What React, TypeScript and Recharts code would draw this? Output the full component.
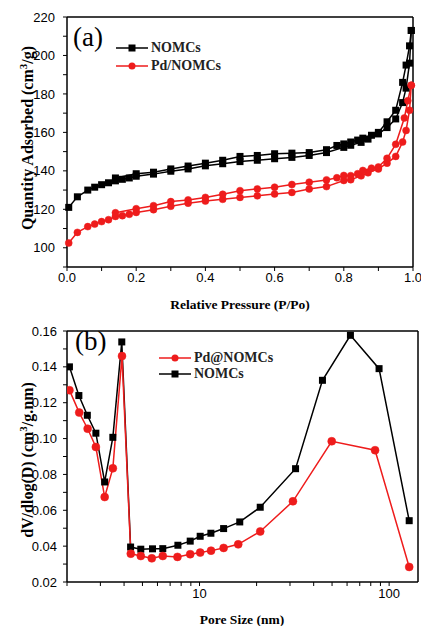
import React from "react";
import { LineChart, Line, XAxis, YAxis, ReferenceLine } from "recharts";

// ─── (a) N2 isotherms ────────────────────────────────────────────────────────

const P_ADS = [0.005, 0.03, 0.06, 0.08, 0.1, 0.12, 0.14, 0.16, 0.18, 0.2, 0.25, 0.3, 0.35, 0.4, 0.45, 0.5, 0.55, 0.6, 0.65, 0.7, 0.75, 0.8, 0.82, 0.85, 0.87, 0.9, 0.925, 0.95, 0.97, 0.98, 0.99, 0.995];
const NOMC_ADS = [121, 126.5, 130, 131.5, 132.8, 133.8, 134.8, 135.6, 136.3, 137.2, 138.3, 139.8, 141, 142.6, 143.7, 144.8, 145.5, 146.3, 147, 148, 149.5, 152.2, 153.3, 154.8, 156.5, 159.2, 162.5, 167, 175.5, 183, 196, 213];
const PD_ADS = [102.5, 108, 111, 112.3, 113.6, 114.6, 116.3, 116.7, 117.4, 118.4, 119.8, 121.6, 123.2, 124.3, 125.2, 126.2, 127, 128, 128.8, 130.6, 131.8, 135, 135.4, 137.4, 139, 141, 144, 147.5, 155, 161, 171.5, 184.5];

const P_DES_N = [0.995, 0.99, 0.98, 0.97, 0.95, 0.925, 0.9, 0.88, 0.855, 0.84, 0.82, 0.8, 0.78, 0.75, 0.7, 0.65, 0.6, 0.55, 0.5, 0.45, 0.4, 0.35, 0.3, 0.25, 0.2, 0.14];
const NOMC_DES = [213, 205, 195, 186, 171.5, 165.5, 160, 158.5, 157, 156, 155, 154, 153.2, 151, 149.5, 149.2, 148.9, 148, 147.5, 145.5, 144, 142.5, 141, 139.3, 138.5, 136.3];

const P_DES_P = [0.995, 0.985, 0.975, 0.95, 0.925, 0.9, 0.88, 0.855, 0.84, 0.82, 0.8, 0.78, 0.75, 0.7, 0.65, 0.6, 0.55, 0.5, 0.45, 0.4, 0.35, 0.3, 0.25, 0.2, 0.14];
const PD_DES = [184.5, 176.5, 167.5, 153.8, 146.5, 142, 141.4, 140.2, 138.5, 137.5, 137.6, 136.4, 135.3, 134.1, 132.9, 131.5, 130.6, 129.7, 127.8, 126.2, 124.9, 124, 121.9, 120.3, 118.2];

const A_XTICKS = [0, 0.1, 0.2, 0.3, 0.4, 0.5, 0.6, 0.7, 0.8, 0.9, 1.0];
const A_YTICKS = [90, 100, 110, 120, 130, 140, 150, 160, 170, 180, 190, 200, 210, 220];

// ─── (b) pore size distribution ─────────────────────────────────────────────

const PORE_N = [2.06, 2.31, 2.56, 2.84, 3.16, 3.49, 3.89, 4.33, 4.9, 5.65, 6.4, 7.69, 8.93, 10.08, 11.48, 13.4, 16.3, 20.9, 32.1, 44.5, 62.5, 88.5, 127.6];
const DV_N = [0.14, 0.124, 0.113, 0.103, 0.0758, 0.1007, 0.1539, 0.0395, 0.0383, 0.0385, 0.0386, 0.0405, 0.0428, 0.0455, 0.0472, 0.0498, 0.0535, 0.0617, 0.0832, 0.1325, 0.1576, 0.139, 0.0542];
const PORE_P = [2.06, 2.32, 2.57, 2.84, 3.16, 3.49, 3.9, 4.34, 4.9, 5.6, 6.4, 7.65, 8.93, 10.08, 11.5, 13.4, 16.0, 20.9, 31.1, 49.8, 84.3, 127.6];
const DV_P = [0.127, 0.1145, 0.1055, 0.0953, 0.0674, 0.0834, 0.146, 0.0358, 0.0345, 0.0332, 0.0345, 0.034, 0.0355, 0.0364, 0.0375, 0.039, 0.041, 0.0482, 0.065, 0.0985, 0.0935, 0.0284];

const B_XTICKS = [2, 3, 4, 5, 6, 7, 8, 9, 10, 20, 30, 40, 50, 60, 70, 80, 90, 100];
const B_YTICKS = [0.02, 0.03, 0.04, 0.05, 0.06, 0.07, 0.08, 0.09, 0.1, 0.11, 0.12, 0.13, 0.14, 0.15, 0.16];

// ─── helpers ────────────────────────────────────────────────────────────────

const RED = "#ee1c1c";
const SANS = "'Liberation Sans', Arial, sans-serif";
const SERIF = "'Liberation Serif', 'Times New Roman', serif";

const zip = (xs: number[], ys: number[]) => xs.map((x, i) => ({ x, y: ys[i] }));

const squareDot = (color: string, s: number) => (props: any) => {
  const { cx, cy, index } = props;
  if (cx == null || cy == null) return <g key={index} />;
  return <rect key={index} x={cx - s / 2} y={cy - s / 2} width={s} height={s} fill={color} />;
};

const tickStyle = { fontSize: 13, fill: "#000", fontFamily: SANS };
const axisLine = { stroke: "#000", strokeWidth: 1.5 };
const tickLine = { stroke: "#000", strokeWidth: 1 };

function LegendRow({ color, square, label, top, left }: { color: string; square: boolean; label: string; top: number; left: number }) {
  return (
    <div style={{ position: "absolute", top: top - 8, left, height: 16, display: "flex", alignItems: "center" }}>
      <svg width={32} height={16}>
        <line x1={0} y1={8} x2={32} y2={8} stroke={color} strokeWidth={1.5} />
        {square ? <rect x={12.5} y={4.5} width={7} height={7} fill={color} /> : <circle cx={16} cy={8} r={3.5} fill={color} />}
      </svg>
      <span style={{ marginLeft: 3, fontFamily: SERIF, fontWeight: "bold", fontSize: 14, color: "#222" }}>{label}</span>
    </div>
  );
}

const panelLabel = (text: string, left: number, top: number) => (
  <div style={{ position: "absolute", left, top, fontFamily: SERIF, fontSize: 27, lineHeight: 1 }}>{text}</div>
);

const yTitle = (node: React.ReactNode, cx: number, cy: number) => (
  <div style={{ position: "absolute", left: cx, top: cy, transform: "translate(-50%, -50%) rotate(-90deg)", whiteSpace: "nowrap", fontFamily: SERIF, fontWeight: "bold", fontSize: 16 }}>
    {node}
  </div>
);

const xTitle = (text: string, cx: number, cy: number) => (
  <div style={{ position: "absolute", left: cx, top: cy, transform: "translate(-50%, -50%)", whiteSpace: "nowrap", fontFamily: SERIF, fontWeight: "bold", fontSize: 13.5 }}>
    {text}
  </div>
);

export default function App() {
  return (
    <div style={{ position: "absolute", left: 0, top: 0, width: 421, height: 626, background: "#fff" }}>
      {/* (a) */}
      <div style={{ position: "absolute", left: 0, top: 0 }}>
        <LineChart width={421} height={310} margin={{ top: 17, right: 8, bottom: 13, left: 0 }}>
          <XAxis dataKey="x" type="number" domain={[0, 1]} ticks={A_XTICKS} interval={0} height={30}
            tick={tickStyle} tickSize={4} tickMargin={2} axisLine={axisLine} tickLine={tickLine}
            tickFormatter={(v: number) => (Math.round(v * 10) % 2 === 0 ? v.toFixed(1) : "")} />
          <YAxis type="number" domain={[90, 220]} ticks={A_YTICKS} interval={0} width={67}
            tick={tickStyle} tickSize={4} tickMargin={8} axisLine={axisLine} tickLine={tickLine}
            tickFormatter={(v: number) => (v % 20 === 0 ? String(v) : "")} />
          <ReferenceLine y={220} stroke="#000" strokeWidth={1.5} />
          <ReferenceLine x={1} stroke="#000" strokeWidth={1.5} />
          <Line data={zip(P_ADS, NOMC_ADS)} dataKey="y" stroke="#000" strokeWidth={1.5} dot={squareDot("#000", 7)} isAnimationActive={false} />
          <Line data={zip(P_DES_N, NOMC_DES)} dataKey="y" stroke="#000" strokeWidth={1.5} dot={squareDot("#000", 7)} isAnimationActive={false} />
          <Line data={zip(P_ADS, PD_ADS)} dataKey="y" stroke={RED} strokeWidth={1.5} dot={{ r: 3.5, fill: RED, stroke: RED, strokeWidth: 0.5 }} isAnimationActive={false} />
          <Line data={zip(P_DES_P, PD_DES)} dataKey="y" stroke={RED} strokeWidth={1.5} dot={{ r: 3.5, fill: RED, stroke: RED, strokeWidth: 0.5 }} isAnimationActive={false} />
        </LineChart>
        {panelLabel("(a)", 73, 24)}
        <LegendRow color="#000" square label="NOMCs" top={48} left={116} />
        <LegendRow color={RED} square={false} label="Pd/NOMCs" top={66} left={116} />
        {yTitle(<span>Quantity Adsorbed (cm<sup style={{ fontSize: 11 }}>3</sup>/g)</span>, 27, 138)}
        {xTitle("Relative Pressure (P/Po)", 240, 305)}
      </div>

      {/* (b) */}
      <div style={{ position: "absolute", left: 0, top: 310 }}>
        <LineChart width={421} height={316} margin={{ top: 21, right: 3, bottom: 14, left: 0 }}>
          <XAxis dataKey="x" type="number" scale="log" domain={[2, 142]} ticks={B_XTICKS} interval={0} height={30}
            tick={tickStyle} tickSize={4} tickMargin={3} axisLine={axisLine} tickLine={tickLine} allowDataOverflow
            tickFormatter={(v: number) => (v === 10 || v === 100 ? String(v) : "")} />
          <YAxis type="number" domain={[0.02, 0.16]} ticks={B_YTICKS} interval={0} width={67}
            tick={tickStyle} tickSize={4} tickMargin={6} axisLine={axisLine} tickLine={tickLine}
            tickFormatter={(v: number) => (Math.round(v * 100) % 2 === 0 ? v.toFixed(2) : "")} />
          <ReferenceLine y={0.16} stroke="#000" strokeWidth={1.5} />
          <ReferenceLine x={142} stroke="#000" strokeWidth={1.5} />
          <Line data={zip(PORE_N, DV_N)} dataKey="y" stroke="#000" strokeWidth={1.5} dot={squareDot("#000", 7)} isAnimationActive={false} />
          <Line data={zip(PORE_P, DV_P)} dataKey="y" stroke={RED} strokeWidth={1.5} dot={{ r: 4, fill: RED, stroke: RED, strokeWidth: 0.5 }} isAnimationActive={false} />
        </LineChart>
        {panelLabel("(b)", 75, 18)}
        <LegendRow color={RED} square={false} label="Pd@NOMCs" top={48} left={159} />
        <LegendRow color="#000" square label="NOMCs" top={64} left={159} />
        {yTitle(<span>dV/dlog(D) (cm<sup style={{ fontSize: 11 }}>3</sup>/g.nm)</span>, 27, 150)}
        {xTitle("Pore Size (nm)", 242, 310)}
      </div>
    </div>
  );
}
